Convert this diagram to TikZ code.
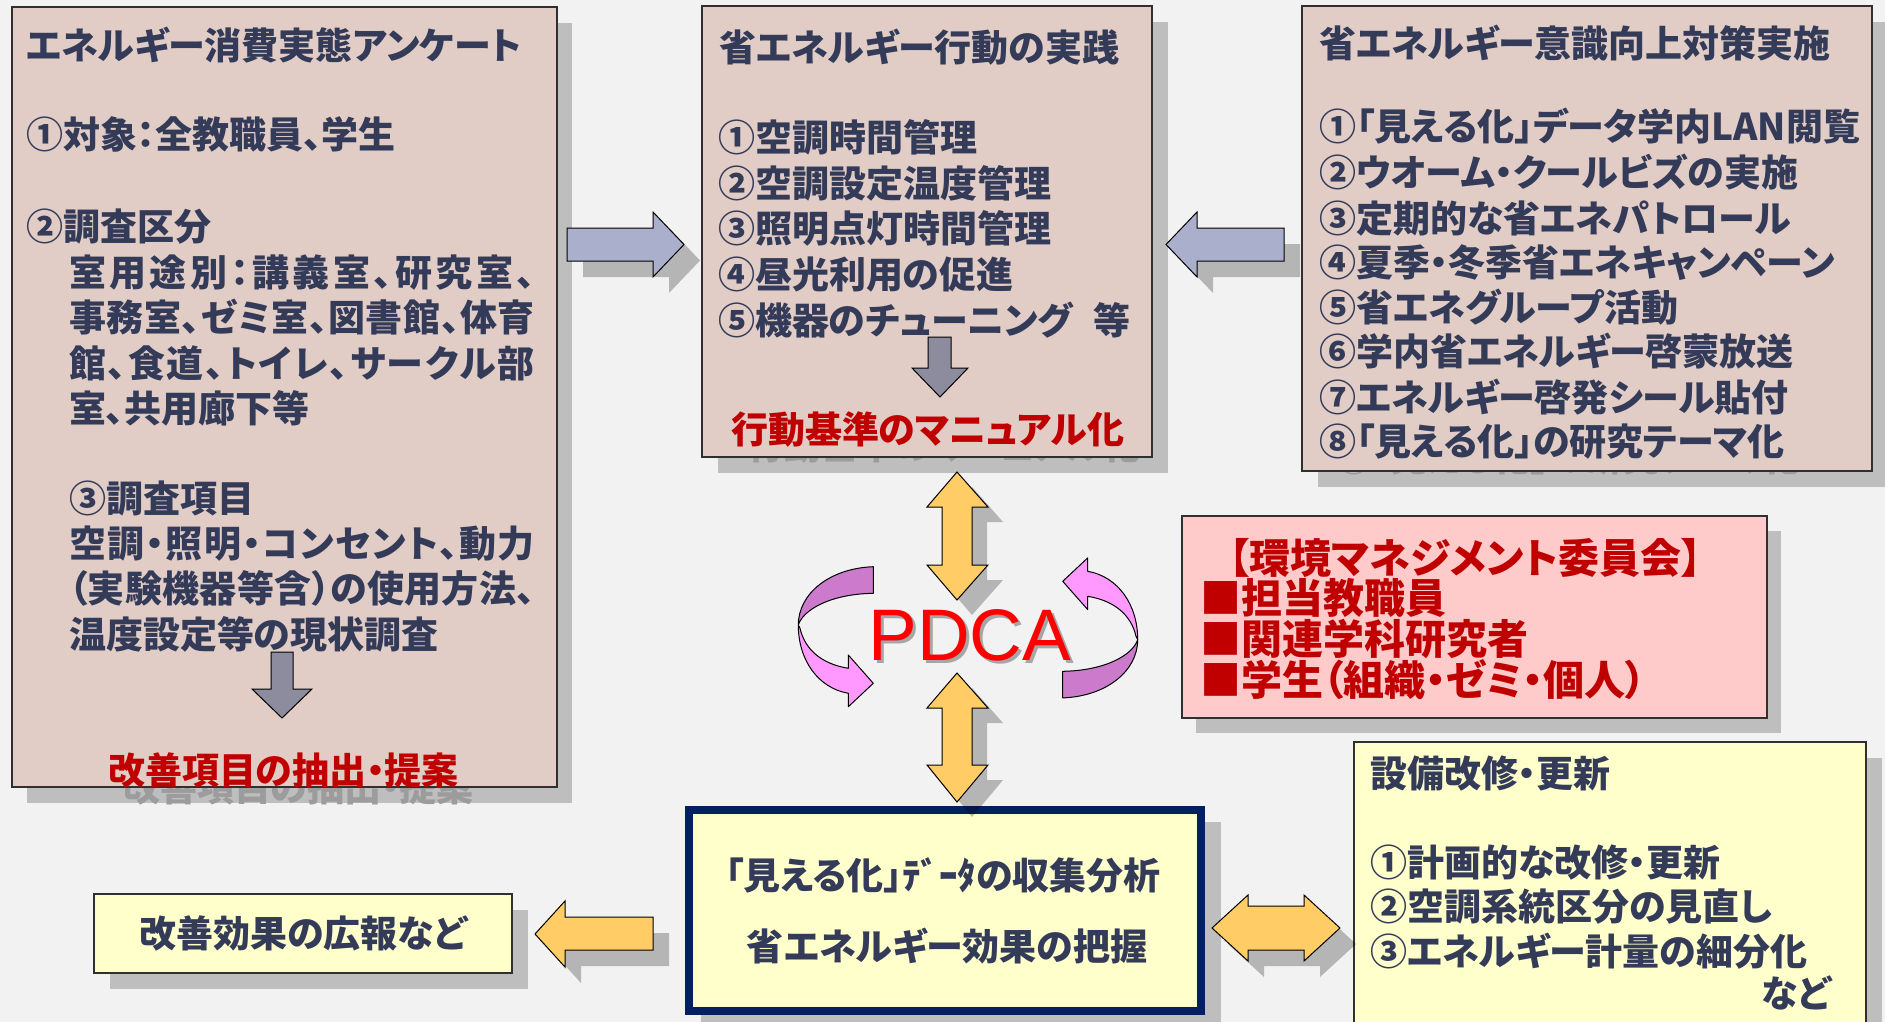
\documentclass[tikz,border=0pt]{standalone}
\usepackage{fontspec}
\newfontfamily\jp{Noto Sans CJK JP}[RawFeature=+palt]
\newfontfamily\pdcaf{Liberation Sans}
\usetikzlibrary{calc}
\definecolor{bgc}{HTML}{F2F2F2}
\definecolor{beige}{HTML}{E1CDC6}
\definecolor{pinkbox}{HTML}{FFCACA}
\definecolor{yel}{HTML}{FFFFCC}
\definecolor{navy}{HTML}{002060}
\definecolor{bodyc}{HTML}{333B58}
\definecolor{redc}{HTML}{C00000}
\definecolor{shc}{HTML}{BEBEBE}
\definecolor{shtc}{HTML}{9C9C9C}
\definecolor{bluea}{HTML}{AAAFCC}
\definecolor{graya}{HTML}{8C8C9E}
\definecolor{yela}{HTML}{FFCC66}
\definecolor{purd}{HTML}{CC7ACC}
\definecolor{purl}{HTML}{FF99FF}
\definecolor{boxline}{HTML}{303030}
\makeatletter
\def\js#1#2{\hbox to #1{\js@loop#2\js@end}}
\def\js@loop#1#2\js@end{#1\ifx\relax#2\relax\else\hfil\js@loop#2\js@end\fi}
\makeatother
\tikzset{
  bodytxt/.style={inner sep=0pt, outer sep=0pt, anchor=base west, text=bodyc,
     font=\jp\bfseries\fontsize{37}{37}\selectfont},
  redtxt/.style={bodytxt, text=redc},
  comtxt/.style={bodytxt, text=redc, font=\jp\bfseries\fontsize{41}{41}\selectfont},
  shtxt/.style={bodytxt, text=shtc},
  box/.style={draw=boxline, line width=1.4pt, inner sep=0pt, outer sep=0pt, anchor=north west},
  shbox/.style={fill=shc, draw=none, inner sep=0pt, outer sep=0pt, anchor=north west},
  arrsh/.style={fill=black, fill opacity=0.25, draw=none},
  bluearr/.style={fill=bluea, draw=black, line width=1pt, line join=miter},
  grayarr/.style={fill=graya, draw=black, line width=1pt, line join=miter},
  yelarr/.style={fill=yela, draw=black, line width=1pt, line join=miter},
  ribbon/.style={draw=black, line width=1pt, line join=round},
}
\begin{document}
\begin{tikzpicture}[x=1pt,y=-1pt]
\fill[bgc] (0,0) rectangle (1885,1022);
\useasboundingbox (0,0) rectangle (1885,1022);

% ---------- box shadows ----------
\node[shbox, minimum width=545pt, minimum height=780pt] (surveySh) at (27,23) {};
\node[shbox, minimum width=450pt, minimum height=451pt] (practiceSh) at (718,22) {};
\node[shbox, minimum width=570pt, minimum height=465pt] (awareSh) at (1318,22) {};
\node[shbox, minimum width=585pt, minimum height=202pt] (committeeSh) at (1196,531) {};
\node[shbox, minimum width=512pt, minimum height=318pt] (renovSh) at (1370,758) {};
\node[shbox, minimum width=520pt, minimum height=209pt] (dataSh) at (701,822) {};
\node[shbox, minimum width=418pt, minimum height=79pt] (prSh) at (110,910) {};
% shadow texts peeking below boxes
\node[shtxt] (surveyRedSh) at (123,801) {改善項目の抽出・提案};
\node[shtxt] (practiceRedSh) at (747,459) {行動基準のマニュアル化};
\node[shtxt] (awareLastSh) at (1335,471) {⑧「見える化」の研究テーマ化};

% ---------- boxes ----------
\node[box, fill=beige, minimum width=545pt, minimum height=780pt] (survey) at (12,7) {};
\node[box, fill=beige, minimum width=450pt, minimum height=451pt] (practice) at (702,6) {};
\node[box, fill=beige, minimum width=570pt, minimum height=465pt] (aware) at (1302,6) {};
\node[box, fill=pinkbox, minimum width=585pt, minimum height=202pt] (committee) at (1182,516) {};
\node[box, fill=yel, minimum width=512pt, minimum height=318pt] (renov) at (1354,742) {};
\node[box, fill=yel, draw=navy, line width=8pt, minimum width=512pt, minimum height=201pt, anchor=center] (data) at (945,910.5) {};
\node[box, fill=yel, minimum width=418pt, minimum height=79pt] (pr) at (94,894) {};

% ---------- left box text ----------
\node[bodytxt] (s1) at (26,60) {エネルギー消費実態アンケート};
\node[bodytxt] (s2) at (26,149) {①対象：全教職員、学生};
\node[bodytxt] (s3) at (26,240) {②調査区分};
\node[bodytxt] (s4) at (69,286) {\js{466pt}{室用途別：講義室、研究室、}};
\node[bodytxt] (s5) at (69,331) {\js{466pt}{事務室、ゼミ室、図書館、体育}};
\node[bodytxt] (s6) at (69,377) {\js{466pt}{館、食道、トイレ、サークル部}};
\node[bodytxt] (s7) at (69,422) {室、共用廊下等};
\node[bodytxt] (s8) at (69,512) {③調査項目};
\node[bodytxt] (s9) at (69,557) {\js{466pt}{空調・照明・コンセント、動力}};
\node[bodytxt] (s10) at (69,602) {\js{466pt}{（実験機器等含）の使用方法、}};
\node[bodytxt] (s11) at (69,648) {温度設定等の現状調査};
\node[redtxt] (s12) at (108,784) {改善項目の抽出・提案};
\filldraw[grayarr] (271,652) -- (293,652) -- (293,689) -- (312,689) -- (282,718) -- (252,689) -- (271,689) -- cycle;

% ---------- middle box text ----------
\node[bodytxt] (p1) at (719,62) {省エネルギー行動の実践};
\node[bodytxt] (p2) at (718,152) {①空調時間管理};
\node[bodytxt] (p3) at (718,197) {②空調設定温度管理};
\node[bodytxt] (p4) at (718,242) {③照明点灯時間管理};
\node[bodytxt] (p5) at (718,288) {④昼光利用の促進};
\node[bodytxt] (p6) at (718,334) {\hbox to 412pt{⑤機器のチューニング\hfil 等}};
\node[redtxt] (p7) at (731,443) {行動基準のマニュアル化};
\filldraw[grayarr] (928,337) -- (951,337) -- (951,368) -- (968,368) -- (940,397) -- (912,368) -- (928,368) -- cycle;

% ---------- right box text ----------
\node[bodytxt] (a0) at (1319,58) {省エネルギー意識向上対策実施};
\node[bodytxt] (a1) at (1319,141) {①「見える化」データ学内LAN閲覧};
\node[bodytxt] (a2) at (1319,186) {②ウオーム・クールビズの実施};
\node[bodytxt] (a3) at (1319,232) {③定期的な省エネパトロール};
\node[bodytxt] (a4) at (1319,276) {④夏季・冬季省エネキャンペーン};
\node[bodytxt] (a5) at (1319,321) {⑤省エネグループ活動};
\node[bodytxt] (a6) at (1319,365) {⑥学内省エネルギー啓蒙放送};
\node[bodytxt] (a7) at (1319,411) {⑦エネルギー啓発シール貼付};
\node[bodytxt] (a8) at (1319,455) {⑧「見える化」の研究テーマ化};

% ---------- committee ----------
\node[comtxt] (c0) at (1229,573) {【環境マネジメント委員会】};
\node[comtxt] (c1) at (1200,613) {■担当教職員};
\node[comtxt] (c2) at (1200,654) {■関連学科研究者};
\node[comtxt] (c3) at (1200,695) {■学生（組織・ゼミ・個人）};

% ---------- renovation ----------
\node[bodytxt] (r0) at (1370,787) {設備改修・更新};
\node[bodytxt] (r1) at (1370,876) {①計画的な改修・更新};
\node[bodytxt] (r2) at (1370,920) {②空調系統区分の見直し};
\node[bodytxt] (r3) at (1370,965) {③エネルギー計量の細分化};
\node[bodytxt, anchor=base east] (r4) at (1831,1007) {など};

% ---------- data box & PR ----------
\node[bodytxt, anchor=base] (d1) at (943,889) {「見える化」ﾃﾞｰﾀの収集分析};
\node[bodytxt, anchor=base] (d2) at (947,960) {省エネルギー効果の把握};
\node[bodytxt, anchor=base] (pr1) at (303,947) {改善効果の広報など};

% ---------- block arrows ----------
\begin{scope}[shift={(16,16)}]
  \fill[arrsh] (567,228) -- (653,228) -- (653,212) -- (684,244.5) -- (653,277) -- (653,261) -- (567,261) -- cycle;
  \fill[arrsh] (1284,228) -- (1197,228) -- (1197,212) -- (1166,244.5) -- (1197,277) -- (1197,261) -- (1284,261) -- cycle;
  \fill[arrsh] (653,917) -- (565,917) -- (565,901) -- (535,934) -- (565,967) -- (565,950) -- (653,950) -- cycle;
  \fill[arrsh] (1212,928) -- (1248,895) -- (1248,906) -- (1304,906) -- (1304,895) -- (1340,928) -- (1304,961) -- (1304,950) -- (1248,950) -- (1248,961) -- cycle;
\end{scope}
\begin{scope}[shift={(15,15)}]
  \fill[arrsh] (957,472) -- (988,507) -- (972,507) -- (972,565) -- (988,565) -- (957,600) -- (927,565) -- (942,565) -- (942,507) -- (927,507) -- cycle;
  \fill[arrsh] (957,673) -- (988,708) -- (972,708) -- (972,765) -- (988,765) -- (957,802) -- (927,765) -- (942,765) -- (942,708) -- (927,708) -- cycle;
\end{scope}
\filldraw[bluearr] (567,228) -- (653,228) -- (653,212) -- (684,244.5) -- (653,277) -- (653,261) -- (567,261) -- cycle;
\filldraw[bluearr] (1284,228) -- (1197,228) -- (1197,212) -- (1166,244.5) -- (1197,277) -- (1197,261) -- (1284,261) -- cycle;
\filldraw[yelarr] (653,917) -- (565,917) -- (565,901) -- (535,934) -- (565,967) -- (565,950) -- (653,950) -- cycle;
\filldraw[yelarr] (1212,928) -- (1248,895) -- (1248,906) -- (1304,906) -- (1304,895) -- (1340,928) -- (1304,961) -- (1304,950) -- (1248,950) -- (1248,961) -- cycle;
\filldraw[yelarr] (957,472) -- (988,507) -- (972,507) -- (972,565) -- (988,565) -- (957,600) -- (927,565) -- (942,565) -- (942,507) -- (927,507) -- cycle;
\filldraw[yelarr] (957,673) -- (988,708) -- (972,708) -- (972,765) -- (988,765) -- (957,802) -- (927,765) -- (942,765) -- (942,708) -- (927,708) -- cycle;

% ---------- PDCA cycle arrows ----------
\foreach \ang in {0,180}{
\begin{scope}[rotate around={\ang:(968,632.3)}]
  \filldraw[ribbon, fill=purd] (873.3,566.7) .. controls (830,568.3) and (798.3,593.3) .. (798.3,625)
     .. controls (803,610) and (830,594) .. (873.3,593.3) -- cycle;
  \filldraw[ribbon, fill=purl] (798.3,625) .. controls (798.3,660) and (818,688) .. (848.3,693.3)
     -- (848.3,706.7) -- (873.3,683.3) -- (848.3,655) -- (848.3,668.3)
     .. controls (822,664) and (805,650) .. (800,628.3) -- cycle;
\end{scope}}
\node[inner sep=0pt, anchor=base, text=black!35, font=\pdcaf\fontsize{73}{73}\selectfont] (pdcaSh) at (973,663) {PDCA};
\node[inner sep=0pt, anchor=base, text=red, font=\pdcaf\fontsize{73}{73}\selectfont] (pdca) at (970,660) {PDCA};
\end{tikzpicture}
\end{document}
